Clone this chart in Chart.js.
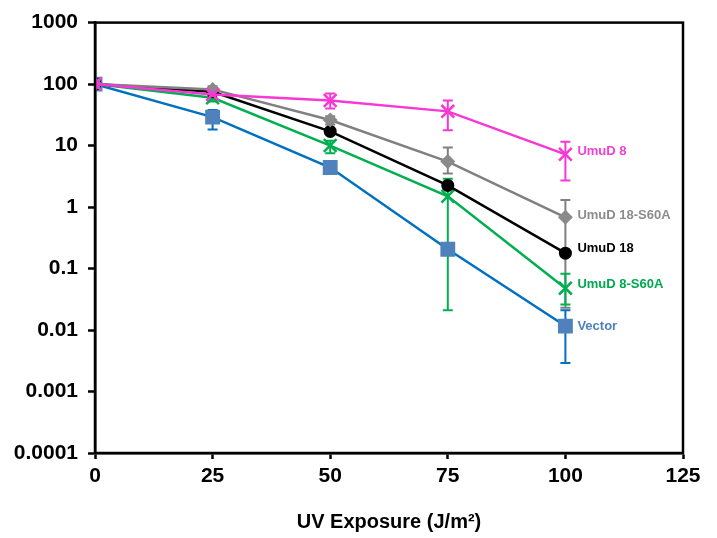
<!DOCTYPE html>
<html>
<head>
<meta charset="utf-8">
<title>UV survival</title>
<script src="https://cdn.jsdelivr.net/npm/chart.js@4"></script>
<style>
  html, body { margin: 0; padding: 0; background: #fff; }
  #wrap { width: 717px; height: 538px; }
</style>
</head>
<body>
<div id="wrap"><canvas id="survivalChart" width="717" height="538"></canvas></div>
<script>
// x positions (UV dose, J/m2)
const doses = [0, 25, 50, 75, 100];

// survival (%) per strain, with upper / lower error bar ends
const umud8 = [100, 68, 54, 36, 7.2];
const umud8Hi = [null, 76, 70, 54, 11.5];
const umud8Lo = [null, 58, 40, 17.7, 2.7];

const umud18S60A = [100, 82, 26, 5.5, 0.68];
const umud18S60AHi = [null, 92, 30, 9.3, 1.3];
const umud18S60ALo = [null, 74, 22, 3.5, 0.023];

const umud18 = [100, 75, 17, 2.25, 0.178];
const umud18Hi = [null, null, null, null, null];
const umud18Lo = [null, null, null, null, null];

const umud8S60A = [100, 60, 10, 1.5, 0.048];
const umud8S60AHi = [null, 66, 12, 2.9, 0.082];
const umud8S60ALo = [null, 52, 7.5, 0.021, 0.026];

const vector = [100, 29, 4.4, 0.206, 0.0116];
const vectorHi = [null, 38, 5.0, 0.25, 0.021];
const vectorLo = [null, 18.3, 3.8, 0.17, 0.0029];

const seriesNames = ['UmuD 8', 'UmuD 18-S60A', 'UmuD 18', 'UmuD 8-S60A', 'Vector'];

const yTicks = [0.0001, 0.001, 0.01, 0.1, 1, 10, 100, 1000];
const yTickLabels = ['0.0001', '0.001', '0.01', '0.1', '1', '10', '100', '1000'];
const xTicks = [0, 25, 50, 75, 100, 125];

function toPoints(vals) {
    return vals.map((v, i) => ({ x: doses[i], y: v }));
}

const FONT = '"Liberation Sans", Arial, sans-serif';

// draws the vertical error bars under the markers
const errorBars = {
    id: 'errorBars',
    beforeDatasetsDraw(chart) {
        const ctx = chart.ctx;
        const xs = chart.scales.x, ys = chart.scales.y;
        chart.data.datasets.forEach(ds => {
            ctx.save();
            ctx.strokeStyle = ds.errColor;
            ctx.lineWidth = 2;
            ds.errHi.forEach((hi, i) => {
                const lo = ds.errLo[i];
                if (hi == null || lo == null) return;
                const px = xs.getPixelForValue(doses[i]);
                const top = ys.getPixelForValue(hi);
                const bot = ys.getPixelForValue(lo);
                ctx.beginPath();
                ctx.moveTo(px, top); ctx.lineTo(px, bot);
                ctx.moveTo(px - 5, top); ctx.lineTo(px + 5, top);
                ctx.moveTo(px - 5, bot); ctx.lineTo(px + 5, bot);
                ctx.stroke();
            });
            ctx.restore();
        });
    }
};

// series names written next to the last point
const endLabels = {
    id: 'endLabels',
    afterDatasetsDraw(chart) {
        const ctx = chart.ctx;
        const xs = chart.scales.x, ys = chart.scales.y;
        ctx.save();
        ctx.font = 'bold 13px ' + FONT;
        ctx.textBaseline = 'middle';
        chart.data.datasets.forEach(ds => {
            const last = ds.data[ds.data.length - 1];
            ctx.fillStyle = ds.labelColor;
            ctx.fillText(ds.label, xs.getPixelForValue(last.x) + 12, ys.getPixelForValue(last.y) + ds.labelDy);
        });
        ctx.restore();
    }
};

// box around the plot area
const frame = {
    id: 'frame',
    afterDraw(chart) {
        const a = chart.chartArea;
        const ctx = chart.ctx;
        ctx.save();
        ctx.strokeStyle = '#000';
        ctx.lineWidth = 2.5;
        ctx.strokeRect(a.left, a.top, a.right - a.left, a.bottom - a.top);
        ctx.restore();
    }
};

const ctx = document.getElementById('survivalChart').getContext('2d');

new Chart(ctx, {
    type: 'scatter',
    data: {
        datasets: [
            {
                label: seriesNames[0], data: toPoints(umud8),
                borderColor: '#F837D4', backgroundColor: '#F837D4',
                pointStyle: 'crossRot', pointRadius: 9, pointBorderWidth: 2.5,
                errHi: umud8Hi, errLo: umud8Lo, errColor: '#F837D4',
                labelColor: '#F23FD8', labelDy: -3
            },
            {
                label: seriesNames[1], data: toPoints(umud18S60A),
                borderColor: '#808080', backgroundColor: '#8A8A8A',
                pointStyle: 'rectRot', pointRadius: 7.5, pointBorderWidth: 0,
                errHi: umud18S60AHi, errLo: umud18S60ALo, errColor: '#808080',
                labelColor: '#8C8C8C', labelDy: -2
            },
            {
                label: seriesNames[2], data: toPoints(umud18),
                borderColor: '#000000', backgroundColor: '#000000',
                pointStyle: 'circle', pointRadius: 6.5, pointBorderWidth: 0,
                errHi: umud18Hi, errLo: umud18Lo, errColor: '#000000',
                labelColor: '#000000', labelDy: -5
            },
            {
                label: seriesNames[3], data: toPoints(umud8S60A),
                borderColor: '#00B050', backgroundColor: '#00B050',
                pointStyle: 'crossRot', pointRadius: 9, pointBorderWidth: 2.5,
                errHi: umud8S60AHi, errLo: umud8S60ALo, errColor: '#00B050',
                labelColor: '#00A850', labelDy: -4
            },
            {
                label: seriesNames[4], data: toPoints(vector),
                borderColor: '#0070C0', backgroundColor: '#4F81BD',
                pointStyle: 'rect', pointRadius: 10.5, pointBorderWidth: 0,
                errHi: vectorHi, errLo: vectorLo, errColor: '#0070C0',
                labelColor: '#4F81BD', labelDy: 0
            }
        ].map(ds => Object.assign(ds, { showLine: true, borderWidth: 2.5, tension: 0 }))
    },
    options: {
        responsive: false,
        animation: false,
        layout: { padding: { top: 22, right: 34, left: 0, bottom: 0 } },
        plugins: {
            legend: { display: false },
            tooltip: { enabled: false }
        },
        scales: {
            x: {
                type: 'linear',
                min: 0, max: 125,
                afterBuildTicks: scale => { scale.ticks = xTicks.map(v => ({ value: v })); },
                afterFit: scale => { scale.height = 85; },
                border: { display: true, color: '#000', width: 2.5 },
                grid: { drawOnChartArea: false, drawTicks: true, tickLength: 6, tickWidth: 2.5, tickColor: '#000' },
                ticks: {
                    color: '#000',
                    padding: 5,
                    font: { family: FONT, size: 21, weight: 'bold' },
                    maxRotation: 0
                },
                title: {
                    display: true,
                    text: 'UV Exposure (J/m²)',
                    color: '#000',
                    font: { family: FONT, size: 20, weight: 'bold' },
                    padding: { top: 16, bottom: 4 }
                }
            },
            y: {
                type: 'logarithmic',
                min: 0.0001, max: 1000,
                afterBuildTicks: scale => { scale.ticks = yTicks.map(v => ({ value: v })); },
                afterFit: scale => { scale.width = 95; },
                border: { display: true, color: '#000', width: 2.5 },
                grid: { drawOnChartArea: false, drawTicks: true, tickLength: 7, tickWidth: 2.5, tickColor: '#000' },
                ticks: {
                    color: '#000',
                    padding: 10,
                    font: { family: FONT, size: 21, weight: 'bold' },
                    callback: (value, index) => yTickLabels[index]
                }
            }
        }
    },
    plugins: [errorBars, endLabels, frame]
});
</script>
</body>
</html>
